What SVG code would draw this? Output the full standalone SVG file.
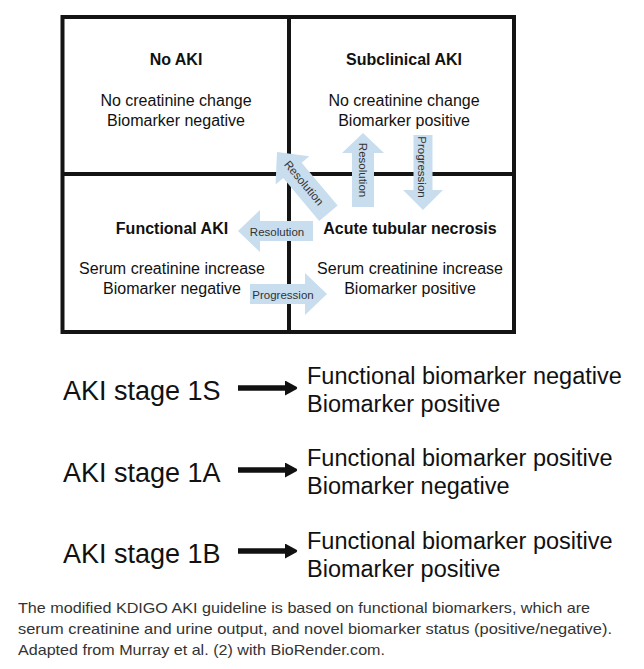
<svg xmlns="http://www.w3.org/2000/svg" width="644" height="669" viewBox="0 0 644 669">
<style>
.t{font-family:"Liberation Sans",Arial,sans-serif;fill:#111;text-anchor:middle}
.b{font-weight:bold;font-size:16px}
.r{font-size:16px}
.a{font-family:"Liberation Sans",Arial,sans-serif;font-size:11.5px;fill:#333;text-anchor:middle}
.big{font-family:"Liberation Sans",Arial,sans-serif;font-size:27px;fill:#111}
.mid{font-family:"Liberation Sans",Arial,sans-serif;font-size:23.5px;fill:#111}
.cap{font-family:"Liberation Sans",Arial,sans-serif;font-size:15px;fill:#333}
.grid{fill:none;stroke:#141414;stroke-width:4}
.blue{fill:#c8ddee}
.blk{stroke:#111;stroke-width:5.5;fill:none}
</style>
<defs>
<marker id="head" markerUnits="userSpaceOnUse" markerWidth="13" markerHeight="16" refX="1" refY="7.5" orient="auto">
<path d="M0,0 L11.5,6.3 Q12.8,7.5 11.5,8.7 L0,15 Z" fill="#111"/>
</marker>
</defs>
<rect width="644" height="669" fill="#fff"/>
<g id="grid">
<rect class="grid" x="62.5" y="17" width="451.5" height="315"/>
<line class="grid" x1="289" y1="17" x2="289" y2="332"/>
<line class="grid" x1="62.5" y1="174" x2="514" y2="174"/>
</g>
<g id="no-aki">
<text class="t b" x="176" y="65">No AKI</text>
<text class="t r" x="176" y="106">No creatinine change</text>
<text class="t r" x="176" y="126">Biomarker negative</text>
</g>
<g id="subclinical-aki">
<text class="t b" x="404" y="65">Subclinical AKI</text>
<text class="t r" x="404" y="106">No creatinine change</text>
<text class="t r" x="404" y="126">Biomarker positive</text>
</g>
<g id="functional-aki">
<text class="t b" x="172" y="234">Functional AKI</text>
<text class="t r" x="172" y="274">Serum creatinine increase</text>
<text class="t r" x="172" y="294">Biomarker negative</text>
</g>
<g id="atn">
<text class="t b" x="410" y="234">Acute tubular necrosis</text>
<text class="t r" x="410" y="274">Serum creatinine increase</text>
<text class="t r" x="410" y="294">Biomarker positive</text>
</g>
<g id="connectors">
<g id="res-diag">
<path class="blue" transform="translate(277,152) rotate(50)" d="M0,0 L24,-22 L24,-12 L80,-12 L80,12 L24,12 L24,22 Z"/>
<text class="a" transform="translate(304,183) rotate(50)" y="4">Resolution</text>
</g>
<g id="res-up">
<path class="blue" transform="translate(363,133) rotate(90)" d="M0,0 L20,-21 L20,-11 L74,-11 L74,11 L20,11 L20,21 Z"/>
<text class="a" transform="translate(363,170) rotate(90)" y="4">Resolution</text>
</g>
<g id="prog-down">
<path class="blue" transform="translate(423,210) rotate(-90)" d="M0,0 L20,-20 L20,-9.5 L75,-9.5 L75,9.5 L20,9.5 L20,20 Z"/>
<text class="a" transform="translate(422,167) rotate(90)" y="4">Progression</text>
</g>
<g id="res-left">
<path class="blue" transform="translate(238,231)" d="M0,0 L22,-21 L22,-10 L75,-10 L75,10 L22,10 L22,21 Z"/>
<text class="a" x="277" y="235.5">Resolution</text>
</g>
<g id="prog-right">
<path class="blue" transform="translate(327,294) rotate(180)" d="M0,0 L22,-21 L22,-10 L77,-10 L77,10 L22,10 L22,21 Z"/>
<text class="a" x="283" y="298.5">Progression</text>
</g>
<line class="blk" x1="238" y1="388" x2="286" y2="388" marker-end="url(#head)"/>
<line class="blk" x1="238" y1="470" x2="286" y2="470" marker-end="url(#head)"/>
<line class="blk" x1="238" y1="551" x2="286" y2="551" marker-end="url(#head)"/>
</g>
<g id="stage-1s">
<text class="big" x="63" y="400">AKI stage 1S</text>
<text class="mid" x="307" y="384">Functional biomarker negative</text>
<text class="mid" x="307" y="412">Biomarker positive</text>
</g>
<g id="stage-1a">
<text class="big" x="63" y="482">AKI stage 1A</text>
<text class="mid" x="307" y="466">Functional biomarker positive</text>
<text class="mid" x="307" y="494">Biomarker negative</text>
</g>
<g id="stage-1b">
<text class="big" x="63" y="563">AKI stage 1B</text>
<text class="mid" x="307" y="549">Functional biomarker positive</text>
<text class="mid" x="307" y="577">Biomarker positive</text>
</g>
<g id="caption">
<text class="cap" x="18" y="613" textLength="572" lengthAdjust="spacingAndGlyphs">The modified KDIGO AKI guideline is based on functional biomarkers, which are</text>
<text class="cap" x="18" y="634" textLength="594" lengthAdjust="spacingAndGlyphs">serum creatinine and urine output, and novel biomarker status (positive/negative).</text>
<text class="cap" x="18" y="655" textLength="367" lengthAdjust="spacingAndGlyphs">Adapted from Murray et al. (2) with BioRender.com.</text>
</g>
</svg>
